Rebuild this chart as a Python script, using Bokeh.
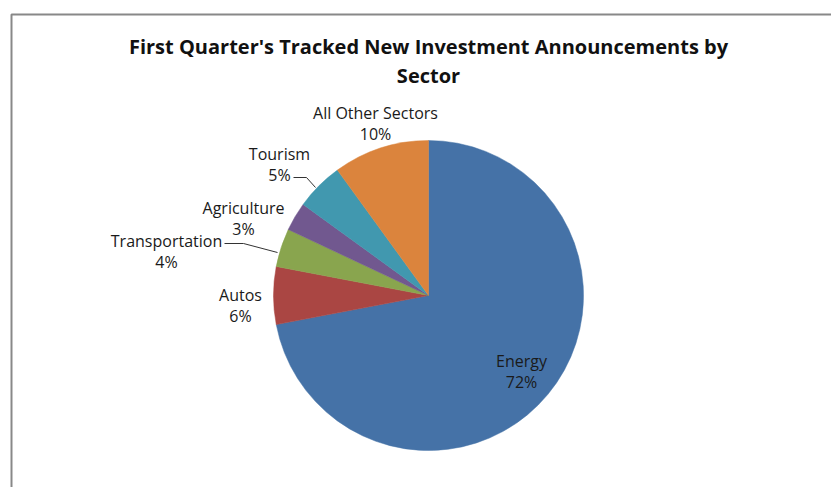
import math
from bokeh.plotting import figure
from bokeh.models import Range1d, ColumnDataSource
from bokeh.core.properties import value
from bokeh.embed import file_html
from bokeh.resources import INLINE

# ---- data ----
sectors = ["Energy", "Autos", "Transportation", "Agriculture", "Tourism", "All Other Sectors"]
shares = [72, 6, 4, 3, 5, 10]
colors = ["#4572A7", "#AA4643", "#89A54E", "#71588F", "#4198AF", "#DB843D"]
title_lines = ["First Quarter's Tracked New Investment Announcements by", "Sector"]

# ---- layout (reference pixel coordinates) ----
W, H = 831, 487
def dx(x): return x
def dy(y): return H - y

center = (428, 295)
radius = 155
label_pos = [(521, 360), (240, 294), (166, 240), (243, 207), (279, 153), (375, 112)]
line_gap = 21

p = figure(width=W, height=H, output_backend="svg", toolbar_location=None,
           x_range=Range1d(0, W), y_range=Range1d(0, H), min_border=0)
p.axis.visible = False
p.grid.visible = False
p.outline_line_color = None
p.background_fill_color = "white"
p.border_fill_color = "white"

# frame
p.line([dx(11), dx(11), dx(900)], [dy(600), dy(14), dy(14)], line_color="#888888", line_width=2)

# wedges
total = float(sum(shares))
starts, ends = [], []
cum = 0.0
for s in shares:
    starts.append(math.pi / 2 - 2 * math.pi * cum / total)
    cum += s
    ends.append(math.pi / 2 - 2 * math.pi * cum / total)
src = ColumnDataSource(dict(start=starts, end=ends, color=colors))
p.wedge(x=dx(center[0]), y=dy(center[1]), radius=radius, start_angle="start", end_angle="end",
        direction="clock", fill_color="color", line_color="color", line_width=0.5, source=src)

# labels
font = value("Open Sans")
names_x = [dx(x) for x, y in label_pos]
names_y = [dy(y) for x, y in label_pos]
pct_y = [dy(y + line_gap) for x, y in label_pos]
pct = [f"{v}%" for v in shares]
p.text(x=names_x, y=names_y, text=sectors, text_font=font, text_font_size="16px",
       text_align="center", text_baseline="middle", text_color="#1a1a1a")
p.text(x=names_x, y=pct_y, text=pct, text_font=font, text_font_size="16px",
       text_align="center", text_baseline="middle", text_color="#1a1a1a")

# leader lines
p.line([dx(293), dx(306), dx(315)], [dy(177), dy(177), dy(187)], line_color="#333333", line_width=1)
p.line([dx(224), dx(243), dx(277)], [dy(243), dy(243), dy(252)], line_color="#333333", line_width=1)

# title
p.text(x=[dx(428), dx(428)], y=[dy(46), dy(75)], text=title_lines, text_font=font,
       text_font_size="20px", text_font_style="bold", text_align="center",
       text_baseline="middle", text_color="#111111")

open("out.html", "w").write(file_html(p, INLINE))
